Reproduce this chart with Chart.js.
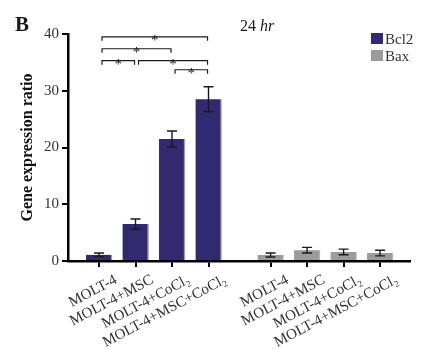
<!DOCTYPE html>
<html>
<head>
<meta charset="utf-8">
<script src="https://cdn.jsdelivr.net/npm/chart.js@4.4.1/dist/chart.umd.min.js"></script>
<style>
  html, body { margin: 0; padding: 0; background: #fff; }
</style>
</head>
<body>
<canvas id="geneChart" width="432" height="362"></canvas>
<script>
// data
const groups = ['MOLT-4', 'MOLT-4+MSC', 'MOLT-4+CoCl\u2082', 'MOLT-4+MSC+CoCl\u2082'];
const bcl2Values = [1.1, 6.5, 21.5, 28.5];
const bcl2Errors = [0.3, 0.9, 1.4, 2.2];
const baxValues = [1.05, 1.9, 1.6, 1.4];
const baxErrors = [0.35, 0.5, 0.5, 0.5];
const yTicks = [0, 10, 20, 30, 40];
// significance comparisons inside the Bcl2 group, with bracket height (y units)
const sigPairs = [[0, 1], [1, 3], [0, 2], [0, 3], [2, 3]];
const sigLevels = [35.3, 35.3, 37.4, 39.5, 33.7];

const GAP = 4.7; // x offset of the Bax group
const serif = '"Liberation Serif", "Times New Roman", serif';
const navy = '#322a6e';
const grey = '#9b9b9b';

const bcl2Pos = groups.map((g, i) => i);
const baxPos = groups.map((g, i) => i + GAP);
const tickPos = bcl2Pos.concat(baxPos);

const errorBars = {
    id: 'errorBars',
    afterDatasetsDraw(chart) {
        const ctx = chart.ctx;
        const y = chart.scales.y;
        const errs = [bcl2Errors, baxErrors];
        ctx.save();
        ctx.strokeStyle = '#1a1a1a';
        ctx.lineWidth = 1.4;
        chart.data.datasets.forEach((ds, di) => {
            chart.getDatasetMeta(di).data.forEach((bar, i) => {
                const v = ds.data[i].y;
                const top = y.getPixelForValue(v + errs[di][i]);
                const bot = y.getPixelForValue(v - errs[di][i]);
                ctx.beginPath();
                ctx.moveTo(bar.x, top); ctx.lineTo(bar.x, bot);
                ctx.moveTo(bar.x - 5, top); ctx.lineTo(bar.x + 5, top);
                ctx.moveTo(bar.x - 5, bot); ctx.lineTo(bar.x + 5, bot);
                ctx.stroke();
            });
        });
        ctx.restore();
    }
};

const extras = {
    id: 'extras',
    afterDraw(chart) {
        const ctx = chart.ctx;
        const y = chart.scales.y;
        const bars = chart.getDatasetMeta(0).data;
        ctx.save();
        // significance brackets
        ctx.strokeStyle = '#1a1a1a';
        ctx.lineWidth = 1.2;
        ctx.fillStyle = '#1a1a1a';
        ctx.textAlign = 'center';
        ctx.textBaseline = 'alphabetic';
        ctx.font = '15px ' + serif;
        sigPairs.forEach((p, k) => {
            const x1 = bars[p[0]].x + 3;
            const x2 = bars[p[1]].x - 1;
            const ly = y.getPixelForValue(sigLevels[k]);
            ctx.beginPath();
            ctx.moveTo(x1, ly + 4); ctx.lineTo(x1, ly); ctx.lineTo(x2, ly); ctx.lineTo(x2, ly + 4);
            ctx.stroke();
            ctx.fillText('*', (x1 + x2) / 2, ly + 8);
        });
        // panel letter
        ctx.textAlign = 'left';
        ctx.font = 'bold 21px ' + serif;
        ctx.fillText('B', 15, 31);
        // time label
        ctx.font = '16px ' + serif;
        ctx.fillText('24 ', 240, 31);
        const w = ctx.measureText('24 ').width;
        ctx.font = 'italic 16px ' + serif;
        ctx.fillText('hr', 240 + w, 31);
        // legend
        const items = [['Bcl2', navy], ['Bax', grey]];
        ctx.font = '15px ' + serif;
        items.forEach((it, i) => {
            ctx.fillStyle = it[1];
            ctx.fillRect(371, 33 + i * 17, 12, 11);
            ctx.fillStyle = '#333';
            ctx.fillText(it[0], 385, 44 + i * 17);
        });
        ctx.restore();
    }
};

new Chart(document.getElementById('geneChart'), {
    type: 'bar',
    data: {
        datasets: [{
            label: 'Bcl2',
            data: bcl2Values.map((v, i) => ({ x: bcl2Pos[i], y: v })),
            backgroundColor: navy,
            borderColor: '#9c98c8',
            borderWidth: { right: 1.5 },
            borderSkipped: 'bottom',
            barThickness: 26
        }, {
            label: 'Bax',
            data: baxValues.map((v, i) => ({ x: baxPos[i], y: v })),
            backgroundColor: grey,
            borderColor: '#c4c4c4',
            borderWidth: { right: 1 },
            borderSkipped: 'bottom',
            barThickness: 26
        }]
    },
    options: {
        responsive: false,
        devicePixelRatio: 1,
        animation: false,
        grouped: false,
        layout: { padding: { left: 0, right: 22, top: 34, bottom: 0 } },
        plugins: { legend: { display: false }, tooltip: { enabled: false } },
        scales: {
            x: {
                type: 'linear',
                offset: false,
                min: -0.85,
                max: 8.52,
                afterBuildTicks: (scale) => { scale.ticks = tickPos.map(v => ({ value: v })); },
                afterFit: (scale) => { scale.height = 101; scale.paddingLeft = 0; scale.paddingRight = 0; },
                grid: { offset: false, drawOnChartArea: false, color: '#000', tickLength: 6, lineWidth: 2, tickColor: '#000' },
                border: { color: '#000', width: 2.5 },
                ticks: {
                    autoSkip: false,
                    maxRotation: 28,
                    minRotation: 28,
                    labelOffset: 17,
                    padding: 4,
                    color: '#333',
                    font: { family: serif, size: 15 },
                    callback: (v, i) => groups[i % groups.length]
                }
            },
            y: {
                min: 0,
                max: 40,
                afterBuildTicks: (scale) => { scale.ticks = yTicks.map(v => ({ value: v })); },
                afterFit: (scale) => { scale.width = 68; },
                grid: { drawOnChartArea: false, tickLength: 6, lineWidth: 2, tickColor: '#000' },
                border: { color: '#000', width: 2.5 },
                ticks: { padding: 3, color: '#333', font: { family: serif, size: 15 } },
                title: {
                    display: true,
                    text: 'Gene expression ratio',
                    color: '#111',
                    padding: { top: 18, bottom: 0 },
                    font: { family: serif, size: 16, weight: 'bold' }
                }
            }
        }
    },
    plugins: [errorBars, extras]
});
</script>
</body>
</html>
